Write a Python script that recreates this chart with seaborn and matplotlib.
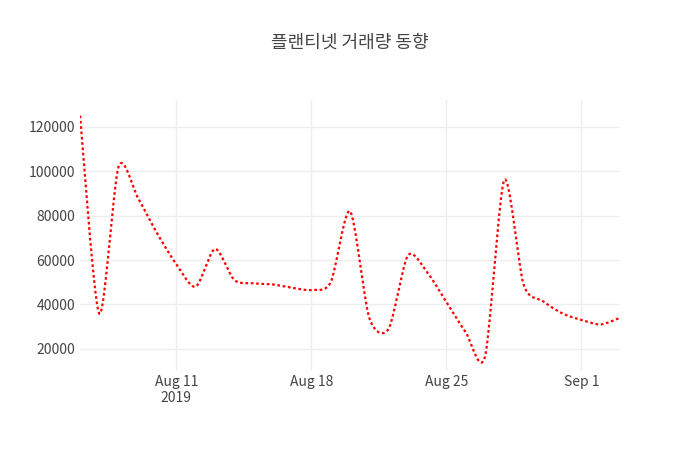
import numpy as np
import pandas as pd
import matplotlib
matplotlib.use("Agg")
import matplotlib.pyplot as plt
import matplotlib.dates as mdates
from matplotlib import font_manager
import seaborn as sns

# find a font that has Hangul glyphs
cjk = [f for f in font_manager.fontManager.ttflist if "CJK" in f.name]
kr = [f for f in cjk if "KR" in f.name] or cjk
families = [kr[0].name] if kr else []
plt.rcParams["font.family"] = families + ["DejaVu Sans"]

dates = pd.date_range("2019-08-06", "2019-09-03", freq="D")
volume = [125000, 35800, 102000, 88000, 72000, 58000, 48000, 65000, 51000,
          49500, 49000, 47500, 46500, 50000, 82000, 34000, 29000, 62000,
          54500, 41000, 27500, 16500, 96000, 49000, 41500, 36000, 33000,
          31000, 34000]

# smooth curve through the points (like plotly's spline shape)
def spline(x, y, n=20, t=0.4):
    xs, ys = [], []
    x = np.asarray(x, float); y = np.asarray(y, float)
    for i in range(len(x) - 1):
        p0 = max(i - 1, 0); p3 = min(i + 2, len(x) - 1)
        m1x = t * (x[i + 1] - x[p0]); m1y = t * (y[i + 1] - y[p0])
        m2x = t * (x[p3] - x[i]); m2y = t * (y[p3] - y[i])
        s = np.linspace(0, 1, n, endpoint=False)
        h00 = 2*s**3 - 3*s**2 + 1; h10 = s**3 - 2*s**2 + s
        h01 = -2*s**3 + 3*s**2; h11 = s**3 - s**2
        xs.append(h00*x[i] + h10*m1x + h01*x[i+1] + h11*m2x)
        ys.append(h00*y[i] + h10*m1y + h01*y[i+1] + h11*m2y)
    xs.append([x[-1]]); ys.append([y[-1]])
    return np.concatenate(xs), np.concatenate(ys)

xnum = mdates.date2num(dates)
sx, sy = spline(xnum, volume)
df = pd.DataFrame({"date": mdates.num2date(sx), "volume": sy})

fig = plt.figure(figsize=(7, 4.5), dpi=100)
ax = fig.add_axes([80/700, 80/450, 540/700, 270/450])
sns.lineplot(data=df, x="date", y="volume", ax=ax, color="red",
             linewidth=1.6, sort=False, dashes=False)
ax.lines[0].set_dashes([1.2, 1.2])

ax.set_xlim(xnum[0], xnum[-1])
ax.set_ylim(10500, 132000)
yt = [20000, 40000, 60000, 80000, 100000, 120000]
ax.set_yticks(yt)
ax.set_yticklabels([str(v) for v in yt])
ticks = pd.to_datetime(["2019-08-11", "2019-08-18", "2019-08-25", "2019-09-01"])
ax.set_xticks(mdates.date2num(ticks))
ax.set_xticklabels(["Aug 11\n2019", "Aug 18", "Aug 25", "Sep 1"])
ax.set_xlabel(""); ax.set_ylabel("")
ax.grid(True, color="#eeeeee", linewidth=1)
for s in ax.spines.values():
    s.set_visible(False)
ax.tick_params(length=0, labelsize=10, colors="#444444")
fig.text(0.5, 1 - 43/450, "플랜티넷 거래량 동향", ha="center", va="center",
         fontsize=13, color="#444444")
fig.savefig("out.png", dpi=100)
